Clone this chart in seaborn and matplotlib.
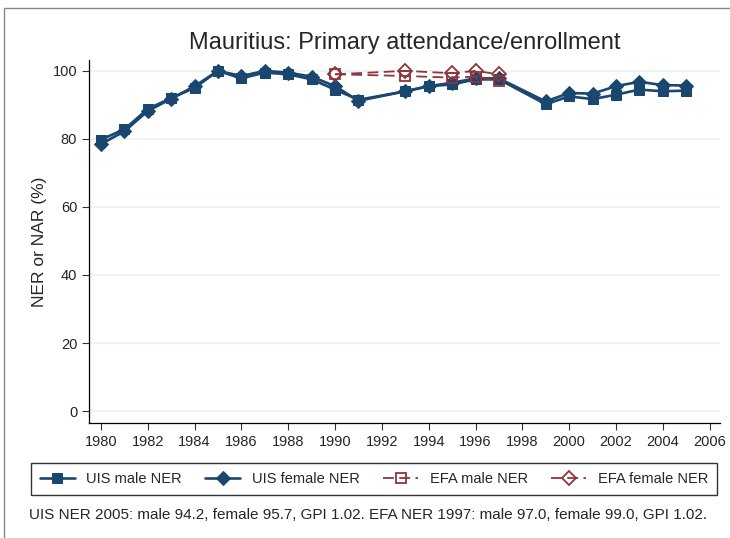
import pandas as pd
import numpy as np
import seaborn as sns
import matplotlib.pyplot as plt
from matplotlib.patches import Rectangle

# UIS data
uis_years = [1980, 1981, 1982, 1983, 1984, 1985, 1986, 1987, 1988, 1989, 1990, 1991,
             1993, 1994, 1995, 1996, 1997, 1999, 2000, 2001, 2002, 2003, 2004, 2005]
uis_male = [79.8, 82.8, 88.8, 92.0, 95.0, 100.0, 97.8, 99.5, 99.0, 97.5, 94.5, 91.5,
            94.0, 95.5, 96.0, 97.5, 97.5, 90.2, 92.5, 91.7, 93.0, 94.5, 94.0, 94.2]
uis_female = [78.5, 82.2, 88.2, 91.8, 95.5, 100.0, 98.5, 100.0, 99.5, 98.3, 95.5, 91.2,
              94.0, 95.5, 96.5, 97.8, 97.8, 91.0, 93.5, 93.3, 95.5, 96.8, 95.8, 95.7]

# EFA data
efa_years = [1990, 1993, 1995, 1996, 1997]
efa_male = [99.0, 98.5, 98.0, 98.3, 97.0]
efa_female = [99.0, 100.0, 99.3, 100.0, 99.0]

navy = '#1a476f'
maroon = '#90353b'

sns.set_style('white')
plt.rcParams['font.family'] = ['Liberation Sans', 'DejaVu Sans']

fig = plt.figure(figsize=(7.3, 5.38), dpi=100)
ax = fig.add_axes([0.1219, 0.2138, 0.864, 0.6747])

df_uis = pd.DataFrame({'year': uis_years, 'male': uis_male, 'female': uis_female})
df_efa = pd.DataFrame({'year': efa_years, 'male': efa_male, 'female': efa_female})

sns.lineplot(data=df_uis, x='year', y='male', ax=ax, color=navy, lw=1.9,
             marker='s', markersize=7.5, markeredgecolor=navy, label='UIS male NER')
sns.lineplot(data=df_uis, x='year', y='female', ax=ax, color=navy, lw=1.9,
             marker='D', markersize=7.5, markeredgecolor=navy, label='UIS female NER')
sns.lineplot(data=df_efa, x='year', y='male', ax=ax, color=maroon, lw=1.3,
             linestyle=(0, (6, 3)), marker='s', markersize=7, markerfacecolor='none',
             markeredgecolor=maroon, markeredgewidth=1.3, label='EFA male NER')
sns.lineplot(data=df_efa, x='year', y='female', ax=ax, color=maroon, lw=1.3,
             linestyle=(0, (6, 3)), marker='D', markersize=7, markerfacecolor='none',
             markeredgecolor=maroon, markeredgewidth=1.3, label='EFA female NER')

ax.set_xlim(1979.49, 2006.43)
ax.set_ylim(-3.5, 103.2)
ax.set_xticks(np.arange(1980, 2007, 2))
ax.set_yticks(np.arange(0, 101, 20))
ax.tick_params(axis='both', direction='out', length=5, width=0.8, color='#333333',
               labelsize=10.5, bottom=True, left=True)
ax.yaxis.grid(True, color='#eaf2f3', lw=1.2)
ax.set_axisbelow(True)
for s in ['top', 'right']:
    ax.spines[s].set_visible(False)
for s in ['left', 'bottom']:
    ax.spines[s].set_color('black')
    ax.spines[s].set_linewidth(0.9)

ax.set_xlabel('')
ax.set_ylabel('NER or NAR (%)', fontsize=12.5)
ax.set_title('Mauritius: Primary attendance/enrollment', fontsize=17, pad=8)

handles, labels = ax.get_legend_handles_labels()
ax.legend_.remove()
fig.legend(handles, labels, loc='upper center', bbox_to_anchor=(374 / 730, 1 - 456 / 538),
           ncol=4, frameon=True, fancybox=False, edgecolor='black', fontsize=10.5,
           handlelength=2.4, columnspacing=1.6, borderpad=0.6)

fig.text(0.04, 0.036, 'UIS NER 2005: male 94.2, female 95.7, GPI 1.02. EFA NER 1997: male 97.0, female 99.0, GPI 1.02.',
         fontsize=11)

fig.patches.append(Rectangle((0.006, -0.01), 1.0, 0.995, transform=fig.transFigure,
                             fill=False, edgecolor='#888888', lw=1))

fig.savefig('out.png', dpi=100)
